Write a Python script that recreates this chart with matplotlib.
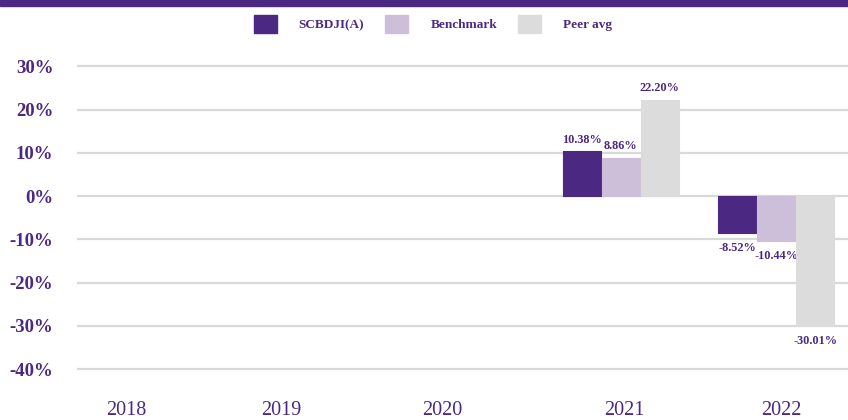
import matplotlib.pyplot as plt
from matplotlib.patches import Rectangle, Patch
from matplotlib.transforms import ScaledTranslation
import numpy as np

plt.rcParams['font.family'] = ['Liberation Serif', 'DejaVu Serif']

years = ['2018', '2019', '2020', '2021', '2022']
fund = [np.nan, np.nan, np.nan, 10.38, -8.52]
bench = [np.nan, np.nan, np.nan, 8.86, -10.44]
peer = [np.nan, np.nan, np.nan, 22.20, -30.01]
series_names = ['SCBDJI(A)', 'Benchmark', 'Peer avg']

PURPLE = '#4B2882'
LAVENDER = '#CDBFD9'
GREY = '#DCDCDC'
colors = [PURPLE, LAVENDER, GREY]

fig = plt.figure(figsize=(8.48, 4.2), dpi=100)
ax = fig.add_axes([77 / 848, 1 - 390 / 420, (854 - 77) / 848, (390 - 55) / 420])

# top band
fig.add_artist(Rectangle((0, 1 - 6 / 420), 1, 6 / 420, transform=fig.transFigure,
                         color=PURPLE, zorder=0))

x = np.arange(len(years))
w = 0.25
for i, (vals, c) in enumerate(zip([fund, bench, peer], colors)):
    pos = x + (i - 1) * w
    ax.bar(pos, vals, w * 0.985, color=c, edgecolor=c, linewidth=0.8,
           joinstyle='round', zorder=3)
    for xp, v in zip(pos, vals):
        if np.isnan(v):
            continue
        va = 'bottom' if v >= 0 else 'top'
        off = 4 if v >= 0 else -6.5
        ax.annotate(f'{v:.2f}%', (xp, v), xytext=(0, off), textcoords='offset points',
                    ha='center', va=va, fontsize=8.8, fontweight='bold', color=PURPLE)

ax.set_xlim(-0.5, 4.5)
ax.set_ylim(-44.8, 32.6)
ax.set_yticks(np.arange(-40, 31, 10))
ax.set_yticklabels([f'{t}%' for t in range(-40, 31, 10)], fontsize=13.5,
                   fontweight='bold', color=PURPLE)
ax.set_xticks(x)
ax.set_xticklabels(years, fontsize=14.5, color=PURPLE)
ax.tick_params(axis='both', length=0)
ax.tick_params(axis='y', pad=17)
ax.tick_params(axis='x', pad=8)
# year labels in the source sit a bit left of the bar groups
for lbl, dx in zip(ax.get_xticklabels(), [-28, -29, -23, 3, 5]):
    lbl.set_transform(lbl.get_transform() + ScaledTranslation(dx / 100, 0, fig.dpi_scale_trans))
ax.yaxis.grid(True, color='#D9D9D9', linewidth=1.6)
ax.set_axisbelow(True)
for s in ax.spines.values():
    s.set_visible(False)

handles = [Patch(facecolor=c, edgecolor=c) for c in colors]
fig.legend(handles, series_names, loc='center', bbox_to_anchor=(433 / 848, 1 - 24 / 420),
           ncol=3, frameon=False, handlelength=1.75, handleheight=1.75,
           handletextpad=1.67, columnspacing=1.6,
           prop={'weight': 'bold', 'size': 9.5})
for t in fig.legends[0].get_texts():
    t.set_color(PURPLE)

fig.savefig('out.png', dpi=100)
